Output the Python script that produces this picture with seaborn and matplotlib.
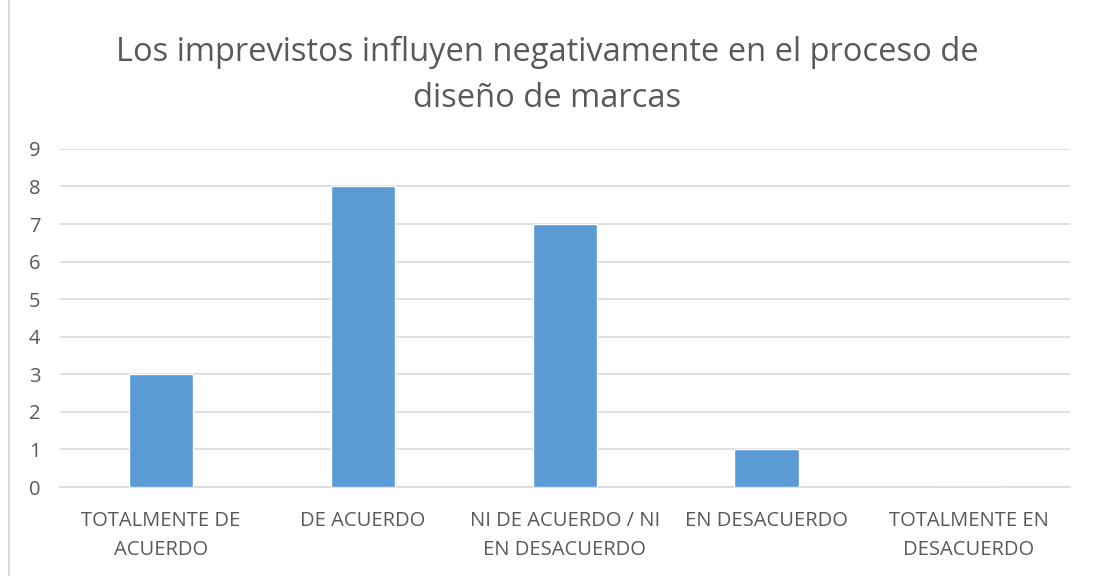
import matplotlib
matplotlib.use("Agg")
import matplotlib.pyplot as plt
import seaborn as sns
import pandas as pd
from matplotlib.patches import Rectangle

# Data
categorias = ["TOTALMENTE DE\nACUERDO", "DE ACUERDO", "NI DE ACUERDO / NI\nEN DESACUERDO",
              "EN DESACUERDO", "TOTALMENTE EN\nDESACUERDO"]
respuestas = [3, 8, 7, 1, 0]
titulo = "Los imprevistos influyen negativamente en el proceso de\ndiseño de marcas"

df = pd.DataFrame({"categoria": categorias, "respuestas": respuestas})

sns.set_theme(style="white")
plt.rcParams['font.family'] = ['Open Sans', 'DejaVu Sans']

texto = "#595959"
fig = plt.figure(figsize=(10.94, 5.76), dpi=100)
ax = fig.add_axes([0.0548, 0.1545, 0.923, 0.587])

sns.barplot(data=df, x="categoria", y="respuestas", color="#5B9BD5",
            width=0.32, saturation=1, ax=ax, zorder=3)

ax.set_ylim(0, 9)
ax.set_yticks(range(0, 10))
ax.set_xlim(-0.5, 4.5)
ax.grid(axis="y", color="#D9D9D9", linewidth=1.2, zorder=0)
for s in ["top", "right", "left"]:
    ax.spines[s].set_visible(False)
ax.spines["bottom"].set_color("#D9D9D9")
ax.spines["bottom"].set_linewidth(1.2)
ax.tick_params(axis="both", length=0, colors=texto, labelsize=14.5)
ax.tick_params(axis="x", pad=17)
ax.tick_params(axis="y", pad=14)
for lbl in ax.get_xticklabels():
    lbl.set_linespacing(1.6)
ax.set_xlabel("")
ax.set_ylabel("")

fig.text(0.5, 0.869, titulo, ha="center", va="center", fontsize=23.5,
         color=texto, linespacing=1.55)

fig.patches.append(Rectangle((0.008, -0.01), 1.0, 1.02, transform=fig.transFigure,
                             fill=False, edgecolor="#D9D9D9", linewidth=1.5))

fig.savefig("out.png", dpi=100)
